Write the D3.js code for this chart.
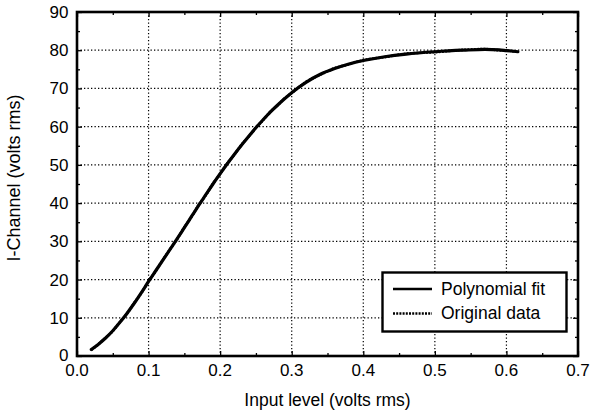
<!DOCTYPE html>
<html>
<head>
<meta charset="utf-8">
<script src="https://cdn.jsdelivr.net/npm/d3@7/dist/d3.min.js"></script>
<style>
  html, body { margin: 0; padding: 0; background: #fff; }
  svg { display: block; }
  text { font-family: "Liberation Sans", Arial, Helvetica, sans-serif; fill: #000; }
</style>
</head>
<body>
<svg id="chart" width="590" height="414"></svg>
<script>
// Input level (volts rms)
const inputLevel = [0.02, 0.03, 0.04, 0.05, 0.06, 0.07, 0.08, 0.09, 0.1, 0.11, 0.12, 0.13,
  0.14, 0.15, 0.16, 0.17, 0.18, 0.19, 0.2, 0.21, 0.22, 0.23, 0.24, 0.25, 0.26, 0.27, 0.28,
  0.29, 0.3, 0.32, 0.34, 0.36, 0.38, 0.4, 0.43, 0.46, 0.5, 0.54, 0.57, 0.59, 0.6, 0.616];
// I-channel output, polynomial fit (volts rms)
const fitValues = [1.7, 3.1, 4.7, 6.6, 8.8, 11.2, 13.8, 16.6, 19.5, 22.3, 25.1, 27.9,
  30.7, 33.6, 36.5, 39.4, 42.2, 45.0, 47.7, 50.3, 52.8, 55.2, 57.5, 59.7, 61.8, 63.8, 65.6,
  67.3, 68.9, 71.6, 73.7, 75.2, 76.4, 77.3, 78.3, 79.0, 79.6, 80.0, 80.2, 80.1, 79.9, 79.6];
// I-channel output, measured (volts rms)
const originalValues = [1.6, 3.1, 4.8, 6.5, 8.9, 11.1, 13.9, 16.5, 19.6, 22.2, 25.2, 27.9,
  30.6, 33.7, 36.4, 39.5, 42.1, 45.1, 47.6, 50.4, 52.7, 55.3, 57.4, 59.8, 61.7, 63.9, 65.5,
  67.4, 68.8, 71.7, 73.6, 75.3, 76.3, 77.4, 78.2, 79.1, 79.5, 80.1, 80.3, 80.0, 79.9, 79.6];

const xTicks = [0.0, 0.1, 0.2, 0.3, 0.4, 0.5, 0.6, 0.7];
const yTicks = [0, 10, 20, 30, 40, 50, 60, 70, 80, 90];
const xMinor = [0.05, 0.15, 0.25, 0.35, 0.45, 0.55, 0.65];
const yMinor = [5, 15, 25, 35, 45, 55, 65, 75, 85];

const legendItems = [
  { label: "Polynomial fit", dash: null },
  { label: "Original data", dash: "2,1.2" }
];

const svg = d3.select("#chart");
const L = 77, R = 578, T = 12, B = 356;

const x = d3.scaleLinear().domain([0, 0.7]).range([L, R]);
const y = d3.scaleLinear().domain([0, 90]).range([B, T]);

// dotted grid
const grid = svg.append("g").attr("stroke", "#000").attr("stroke-width", 1.2)
  .attr("stroke-dasharray", "1.3,2.2");
grid.selectAll("line.gx").data(xTicks.slice(1, -1)).join("line")
  .attr("x1", d => x(d)).attr("x2", d => x(d)).attr("y1", T).attr("y2", B);
grid.selectAll("line.gy").data(yTicks.slice(1, -1)).join("line")
  .attr("y1", d => y(d)).attr("y2", d => y(d)).attr("x1", L).attr("x2", R);

// inward ticks on all four sides
function tickAxis(gen, tx, ty, vals, size) {
  const g = svg.append("g").attr("transform", `translate(${tx},${ty})`)
    .call(gen.tickValues(vals).tickSize(size).tickFormat(""));
  g.select(".domain").remove();
  g.selectAll(".tick line").attr("stroke", "#000").attr("stroke-width", 1.3);
}
tickAxis(d3.axisBottom(x), 0, B, xTicks, -5);
tickAxis(d3.axisBottom(x), 0, B, xMinor, -3);
tickAxis(d3.axisTop(x), 0, T, xTicks, -5);
tickAxis(d3.axisTop(x), 0, T, xMinor, -3);
tickAxis(d3.axisLeft(y), L, 0, yTicks, -5);
tickAxis(d3.axisLeft(y), L, 0, yMinor, -3);
tickAxis(d3.axisRight(y), R, 0, yTicks, -5);
tickAxis(d3.axisRight(y), R, 0, yMinor, -3);

// tick labels
svg.append("g").selectAll("text").data(xTicks).join("text")
  .attr("x", d => x(d)).attr("y", 376).attr("text-anchor", "middle")
  .attr("font-size", 17).text(d => d.toFixed(1));
svg.append("g").selectAll("text").data(yTicks).join("text")
  .attr("x", 68.5).attr("y", d => y(d) + (d === 0 ? 4.5 : 6)).attr("text-anchor", "end")
  .attr("font-size", 17).text(d => d);

// axis titles
svg.append("text").attr("x", (L + R) / 2).attr("y", 405.5).attr("text-anchor", "middle")
  .attr("font-size", 17.5).text("Input level (volts rms)");
svg.append("text").attr("transform", `translate(19.5,${178}) rotate(-90)`)
  .attr("text-anchor", "middle").attr("font-size", 18).text("I-Channel (volts rms)");

// curves
const line = d3.line().x(d => x(d[0])).y(d => y(d[1])).curve(d3.curveMonotoneX);
svg.append("path").datum(d3.zip(inputLevel, fitValues)).attr("d", line)
  .attr("fill", "none").attr("stroke", "#000").attr("stroke-width", 3.2)
  .attr("stroke-linecap", "round").attr("stroke-linejoin", "round");
svg.append("path").datum(d3.zip(inputLevel, originalValues)).attr("d", line)
  .attr("fill", "none").attr("stroke", "#000").attr("stroke-width", 2.6)
  .attr("stroke-dasharray", "2,1.2");

// frame
svg.append("rect").attr("x", L).attr("y", T).attr("width", R - L).attr("height", B - T)
  .attr("fill", "none").attr("stroke", "#000").attr("stroke-width", 2.6);

// legend
const lg = svg.append("g");
lg.append("rect").attr("x", 382.5).attr("y", 272.5).attr("width", 184).attr("height", 59)
  .attr("fill", "#fff").attr("stroke", "#000").attr("stroke-width", 2.4);
const rows = lg.selectAll("g.row").data(legendItems).join("g")
  .attr("transform", (d, i) => `translate(0,${289 + i * 24.5})`);
rows.append("line").attr("x1", 393).attr("x2", 432).attr("y1", 0).attr("y2", 0)
  .attr("stroke", "#000").attr("stroke-width", 2.6)
  .attr("stroke-dasharray", d => d.dash);
rows.append("text").attr("x", 441).attr("y", 5.5).attr("font-size", 17.5).text(d => d.label);
</script>
</body>
</html>
